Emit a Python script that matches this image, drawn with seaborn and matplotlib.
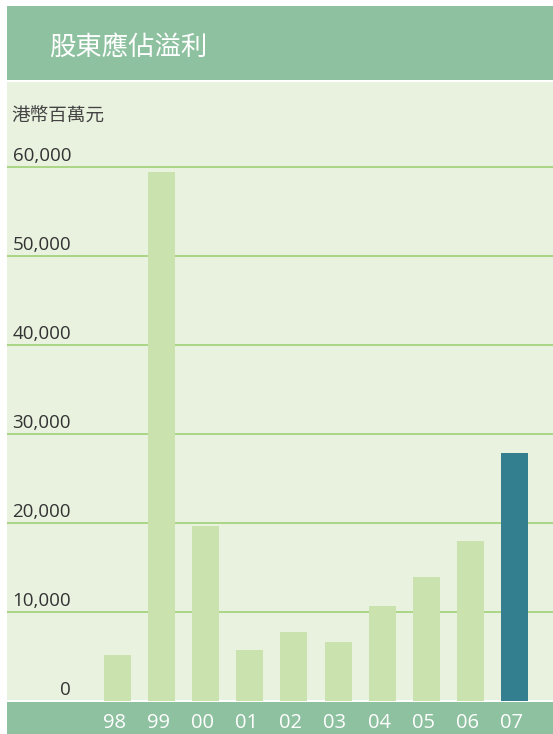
import matplotlib
matplotlib.use("Agg")
import matplotlib.pyplot as plt
import matplotlib.transforms as mtransforms
from matplotlib.patches import Rectangle
import seaborn as sns
import pandas as pd

# ---- data ----
years = ["98", "99", "00", "01", "02", "03", "04", "05", "06", "07"]
profit = [5200, 59400, 19700, 5700, 7800, 6600, 10700, 13900, 18000, 27900]
yticks = [0, 10000, 20000, 30000, 40000, 50000, 60000]
ytick_labels = ["0", "10,000", "20,000", "30,000", "40,000", "50,000", "60,000"]
title = "股東應佔溢利"
unit = "港幣百萬元"

# ---- style ----
LIGHT_BAR = "#C9E2AE"
DARK_BAR = "#337F8F"
BAND = "#8DC19F"
BG = "#E9F2DF"
GRID = "#A6D47E"
TXT = "#333333"

sns.set_theme(style="white")
plt.rcParams["font.family"] = ["Open Sans", "Noto Sans CJK TC", "DejaVu Sans"]

W, H = 553, 734
fig = plt.figure(figsize=(W / 100, H / 100), dpi=100, facecolor="white")

def fx(px):
    return px / W

def fy(py):
    return 1 - py / H

# header band
fig.patches.append(Rectangle((fx(7), fy(80)), fx(553) - fx(7), fy(6) - fy(80),
                             transform=fig.transFigure, facecolor=BAND,
                             edgecolor="none", zorder=0))
# bottom band
fig.patches.append(Rectangle((fx(7), 0), fx(553) - fx(7), fy(702),
                             transform=fig.transFigure, facecolor=BAND,
                             edgecolor="none", zorder=0))
# light background
fig.patches.append(Rectangle((fx(7), fy(700)), fx(553) - fx(7), fy(82) - fy(700),
                             transform=fig.transFigure, facecolor=BG,
                             edgecolor="none", zorder=0))

zero_px, per10k = 701.0, 89.0
ax_top = 82.0
ax = fig.add_axes([fx(7), fy(zero_px), fx(553) - fx(7), fy(ax_top) - fy(zero_px)])
ax.set_facecolor("none")
ax.set_zorder(5)

df = pd.DataFrame({"year": years, "profit": profit})
colors = {y: (DARK_BAR if y == years[-1] else LIGHT_BAR) for y in years}
sns.barplot(data=df, x="year", y="profit", hue="year", palette=colors,
            order=years, legend=False, width=0.612, saturation=1, ax=ax,
            linewidth=0, edgecolor="none", zorder=3)

ymax = (zero_px - ax_top) / per10k * 10000
ax.set_ylim(0, ymax)
ax_w = 553 - 7
unit_px = (514.5 - 117.5) / 9
left = -(117.5 - 7) / unit_px
ax.set_xlim(left, left + ax_w / unit_px)

for s in ax.spines.values():
    s.set_visible(False)

for v in yticks[1:]:
    ax.axhline(v, color=GRID, lw=1.3, zorder=1)

ax.set_yticks([])
ax.set_xlabel("")
ax.set_ylabel("")
ax.tick_params(axis="x", length=0, pad=9, colors="white", labelsize=14.5)
shift = mtransforms.ScaledTranslation(-3 / 100, 0, fig.dpi_scale_trans)
for lbl in ax.get_xticklabels():
    lbl.set_transform(lbl.get_transform() + shift)

# y labels
trans = mtransforms.blended_transform_factory(ax.transAxes, ax.transData)
off = mtransforms.ScaledTranslation(0, 6 / 100, fig.dpi_scale_trans)
for v, lab in zip(yticks, ytick_labels):
    ax.text((71 - 7) / ax_w, v, lab, transform=trans + off, ha="right",
            va="baseline", fontsize=13.5, color=TXT,
            family=["Open Sans", "DejaVu Sans"])

fig.text(fx(49), fy(47.5), title, color="white", fontsize=19, va="center",
         ha="left", family=["Noto Sans CJK TC", "DejaVu Sans"])
fig.text(fx(11), fy(115.5), unit, color="#444444", fontsize=13.4, va="center",
         ha="left", family=["Noto Sans CJK TC", "DejaVu Sans"])

fig.savefig("out.png", dpi=100, facecolor="white")
